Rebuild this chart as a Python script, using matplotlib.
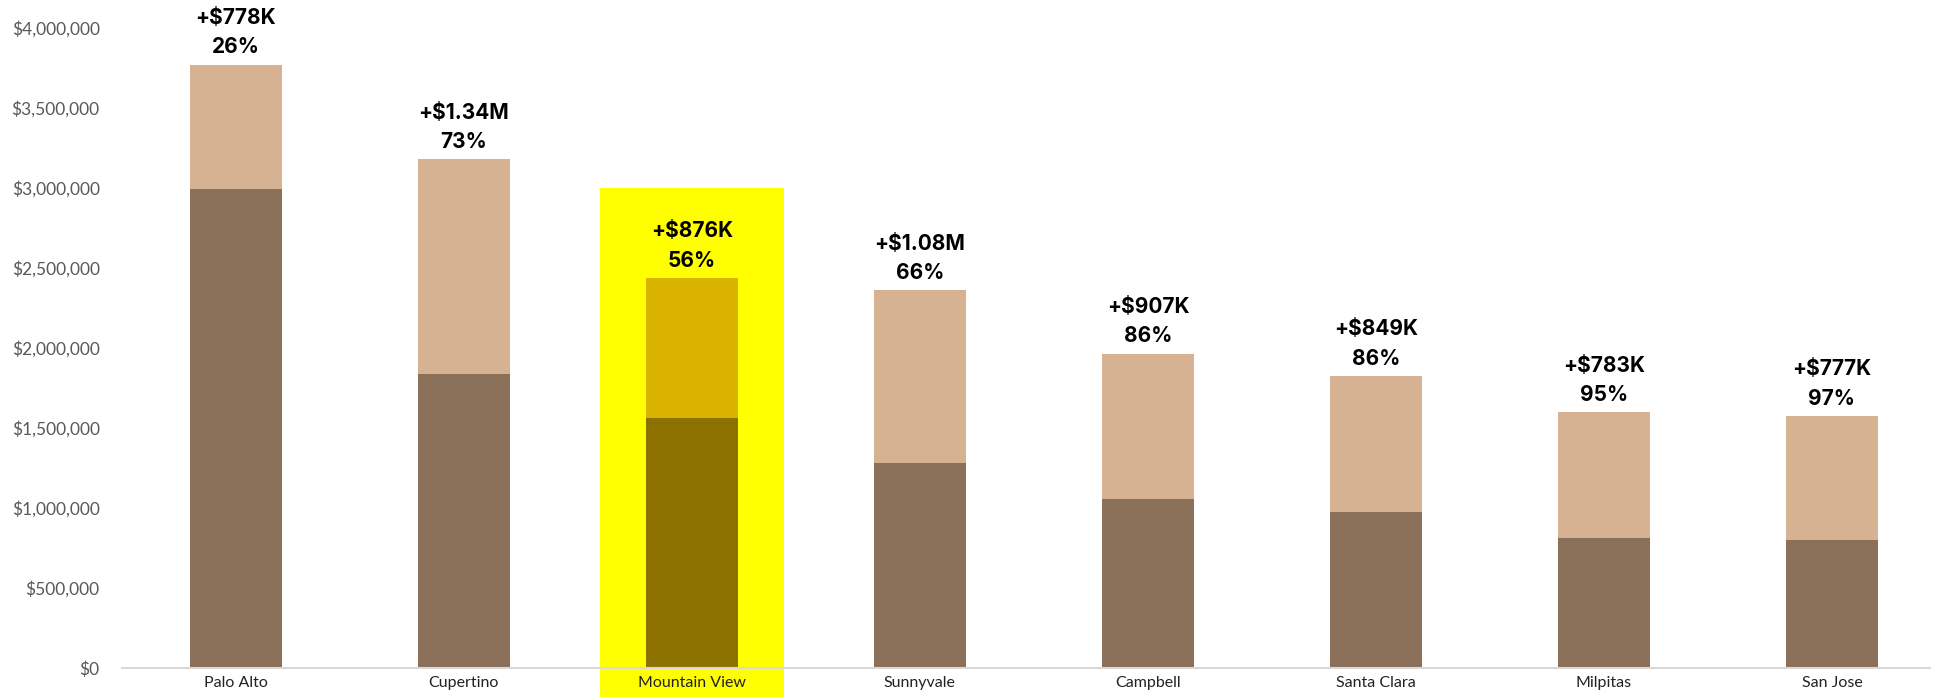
import matplotlib.pyplot as plt
from matplotlib.ticker import FuncFormatter

# values
cities = ['Palo Alto', 'Cupertino', 'Mountain View', 'Sunnyvale',
          'Campbell', 'Santa Clara', 'Milpitas', 'San Jose']
base_values = [2994000, 1840000, 1564000, 1280000, 1059000, 977000, 815000, 800000]
increases = [778000, 1340000, 876000, 1080000, 907000, 849000, 783000, 777000]
increase_labels = ['+$778K', '+$1.34M', '+$876K', '+$1.08M',
                   '+$907K', '+$849K', '+$783K', '+$777K']
pct_labels = ['26%', '73%', '56%', '66%', '86%', '86%', '95%', '97%']
highlight = 'Mountain View'
highlight_top = 3000000

dark = '#8B7059'
light = '#D6B192'
hl_dark = '#8C7000'
hl_light = '#D9B300'
hl_bg = '#FFFF00'

fig = plt.figure(figsize=(19.35, 6.97), dpi=100)
ax = fig.add_axes([0.063, 0.0416, 0.9344, 0.918])

x = list(range(len(cities)))
dark_colors = [hl_dark if c == highlight else dark for c in cities]
light_colors = [hl_light if c == highlight else light for c in cities]

ax.bar(x, base_values, width=0.4, color=dark_colors, zorder=3)
ax.bar(x, increases, width=0.4, bottom=base_values, color=light_colors, zorder=3)

# yellow highlight box behind the chosen city
hi = cities.index(highlight)
ax.add_patch(plt.Rectangle((hi - 0.405, -400000), 0.81, highlight_top + 400000,
                           facecolor=hl_bg, edgecolor='none', zorder=1, clip_on=False))

for i in x:
    top = base_values[i] + increases[i]
    ax.text(i, top + 45000, pct_labels[i], ha='center', va='bottom',
            fontsize=15, fontweight='bold', family='Inter', color='black', zorder=5)
    ax.text(i, top + 45000 + 185000, increase_labels[i], ha='center', va='bottom',
            fontsize=15, fontweight='bold', family='Inter', color='black', zorder=5)

ax.set_xlim(-0.5, 7.43)
ax.set_ylim(0, 4000000)
ax.set_yticks(range(0, 4000001, 500000))
ax.yaxis.set_major_formatter(FuncFormatter(lambda v, p: '${:,.0f}'.format(v)))
ax.set_xticks(x)
ax.set_xticklabels(cities)

ax.tick_params(axis='y', length=0, pad=16, labelsize=12.5, labelcolor='#595959')
ax.tick_params(axis='x', length=0, pad=6, labelsize=11.5, labelcolor='#222222')
for lab in ax.get_xticklabels() + ax.get_yticklabels():
    lab.set_family('Lato')

for side in ['top', 'right', 'left']:
    ax.spines[side].set_visible(False)
ax.spines['bottom'].set_color('#D9D9D9')
ax.spines['bottom'].set_linewidth(1.5)
ax.spines['bottom'].set_zorder(4)

fig.savefig('out.png', dpi=100)
